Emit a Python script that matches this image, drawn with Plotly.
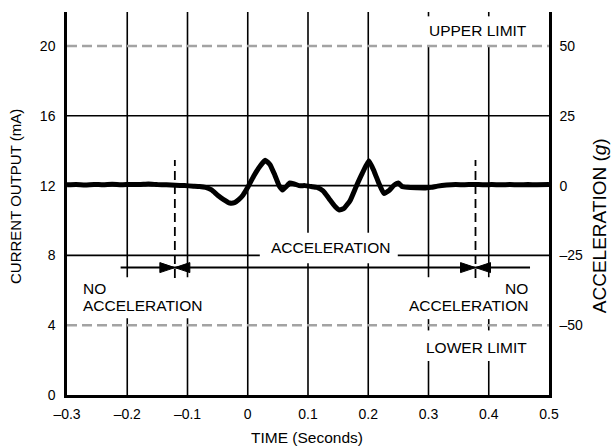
import plotly.graph_objects as go

# ---- data ----
time_s = [-0.300, -0.285, -0.270, -0.255, -0.240, -0.225, -0.210, -0.195, -0.180, -0.165,
          -0.150, -0.135, -0.120, -0.105, -0.090, -0.080, -0.070, -0.060, -0.050, -0.040,
          -0.030, -0.022, -0.015, -0.008, 0.000, 0.010, 0.020, 0.029, 0.037, 0.045,
          0.052, 0.058, 0.064, 0.070, 0.077, 0.085, 0.095, 0.105, 0.115, 0.125,
          0.135, 0.145, 0.152, 0.160, 0.170, 0.180, 0.190, 0.201, 0.210, 0.218,
          0.226, 0.234, 0.242, 0.250, 0.256, 0.265, 0.280, 0.295, 0.305, 0.315,
          0.330, 0.345, 0.360, 0.375, 0.390, 0.405, 0.420, 0.435, 0.450, 0.465,
          0.480, 0.500]
current_ma = [12.05, 12.07, 12.04, 12.07, 12.05, 12.08, 12.05, 12.07, 12.06, 12.09,
              12.06, 12.05, 12.02, 12.00, 11.97, 11.95, 11.90, 11.75, 11.45, 11.20,
              11.00, 11.02, 11.20, 11.45, 11.90, 12.55, 13.10, 13.45, 13.20, 12.60,
              12.00, 11.75, 11.95, 12.15, 12.10, 12.00, 12.00, 11.95, 11.90, 11.70,
              11.25, 10.80, 10.60, 10.70, 11.15, 11.95, 12.70, 13.42, 12.80, 12.10,
              11.55, 11.70, 12.00, 12.15, 11.95, 11.90, 11.88, 11.87, 11.90, 11.97,
              12.03, 12.06, 12.05, 12.07, 12.05, 12.06, 12.05, 12.06, 12.05, 12.06,
              12.05, 12.06]

x_ticks = [-0.3, -0.2, -0.1, 0.0, 0.1, 0.2, 0.3, 0.4, 0.5]
x_ticktext = ["–0.3", "–0.2", "–0.1", "0", "0.1", "0.2", "0.3", "0.4", "0.5"]
y_ticks = [0, 4, 8, 12, 16, 20]
y_ticktext = ["0", "4", "8", "12", "16", "20"]
g_ticks = [-50, -25, 0, 25, 50]
g_ticktext = ["–50", "–25", "0", "25", "50"]

upper_limit_ma = 20
lower_limit_ma = 4
accel_start_s = -0.121
accel_end_s = 0.378

# ---- scales ----
X0, X1 = -0.3, 0.5
Y0, Y1 = 0.0, 21.95
G_PER_MA = 6.25
G_ZERO_MA = 12.0

FONT = "Liberation Sans, Arial, Helvetica, sans-serif"
BLACK = "#000000"
GRAY = "#a3a3a3"

fig = go.Figure()
fig.add_trace(go.Scatter(x=time_s, y=current_ma, mode="lines",
                         line=dict(color=BLACK, width=5, shape="spline", smoothing=0.4),
                         hoverinfo="skip", showlegend=False))
# invisible trace so the right axis is drawn
fig.add_trace(go.Scatter(x=[X0], y=[0], yaxis="y2", mode="markers",
                         marker=dict(opacity=0), showlegend=False, hoverinfo="skip"))

shapes = []


def seg(x0, y0, x1, y1, color=BLACK, width=1.6, dash=None):
    line = dict(color=color, width=width)
    if dash:
        line["dash"] = dash
    shapes.append(dict(type="line", xref="x", yref="y", x0=x0, y0=y0, x1=x1, y1=y1,
                       line=line, layer="below"))


# vertical grid lines (with gaps where the labels sit)
for xv in (-0.2, -0.1):
    seg(xv, 6.75, xv, Y1)
    seg(xv, 0, xv, 4.4)
seg(0.0, 0, 0.0, Y1)
for xv in (0.1, 0.2):
    seg(xv, 9.3, xv, Y1)
    seg(xv, 0, xv, 7.55)
for xv in (0.3, 0.4):
    seg(xv, 21.7, xv, Y1)
    seg(xv, 6.75, xv, upper_limit_ma)
    seg(xv, 3.7, xv, 4.35)
    seg(xv, 0, xv, 1.95)

# horizontal grid lines
seg(X0, 16, X1, 16)
seg(X0, 12, X1, 12)
seg(X0, 8, 0.020, 8)
seg(0.249, 8, X1, 8)

# limit lines
for yv in (upper_limit_ma, lower_limit_ma):
    shapes.append(dict(type="line", xref="x", yref="y", x0=X0, x1=X1, y0=yv, y1=yv,
                       line=dict(color=GRAY, width=2.6, dash="10px,5px"), layer="above"))

# dashed markers for start / end of acceleration
for xv in (accel_start_s, accel_end_s):
    shapes.append(dict(type="line", xref="x", yref="y", x0=xv, x1=xv, y0=6.7, y1=13.47,
                       line=dict(color=BLACK, width=1.8, dash="9px,5px"), layer="above"))

# arrow lines
ARROW_Y = 7.3
for a, b in ((-0.211, accel_start_s), (accel_start_s, accel_end_s), (accel_end_s, 0.4685)):
    shapes.append(dict(type="line", xref="x", yref="y", x0=a, x1=b, y0=ARROW_Y, y1=ARROW_Y,
                       line=dict(color=BLACK, width=2), layer="above"))

# arrow heads (pixel sized triangles anchored at the dashed markers)
HEAD_L, HEAD_H = 15, 5


def head(x_anchor, direction):
    # direction +1: points right (tip at anchor), -1: points left
    bx = -direction * HEAD_L
    path = f"M0,0 L{bx},{HEAD_H} L{bx},{-HEAD_H} Z"
    shapes.append(dict(type="path", xref="x", yref="y", xsizemode="pixel", ysizemode="pixel",
                       xanchor=x_anchor, yanchor=ARROW_Y, path=path,
                       fillcolor=BLACK, line=dict(color=BLACK, width=1), layer="above"))


head(accel_start_s, +1)
head(accel_start_s, -1)
head(accel_end_s, +1)
head(accel_end_s, -1)

ann_font = dict(family=FONT, size=15.5, color=BLACK)
annotations = [
    dict(text="UPPER LIMIT", x=0.466, y=20.9, xanchor="right", yanchor="middle"),
    dict(text="LOWER LIMIT", x=0.466, y=2.75, xanchor="right", yanchor="middle"),
    dict(text="ACCELERATION", x=0.137, y=8.48, xanchor="center", yanchor="middle"),
    dict(text="NO", x=-0.277, y=6.1, xanchor="left", yanchor="middle"),
    dict(text="ACCELERATION", x=-0.277, y=5.12, xanchor="left", yanchor="middle"),
    dict(text="NO", x=0.4685, y=6.1, xanchor="right", yanchor="middle"),
    dict(text="ACCELERATION", x=0.4685, y=5.12, xanchor="right", yanchor="middle"),
]
for a in annotations:
    a.update(xref="x", yref="y", showarrow=False, font=ann_font)

# axis titles
annotations += [
    dict(text="TIME (Seconds)", xref="paper", yref="paper", x=0.498, y=-0.1097,
         xanchor="center", yanchor="middle", showarrow=False, font=ann_font),
    dict(text="CURRENT OUTPUT (mA)", xref="paper", yref="paper", x=-0.107, y=0.518,
         xanchor="center", yanchor="middle", textangle=-90, showarrow=False,
         font=dict(family=FONT, size=15, color=BLACK)),
    dict(text="ACCELERATION (<i>g</i>)", xref="paper", yref="paper", x=1.104, y=0.441,
         xanchor="center", yanchor="middle", textangle=-90, showarrow=False,
         font=dict(family=FONT, size=19, color=BLACK)),
]

tick_font = dict(family=FONT, size=14, color=BLACK)
fig.update_layout(
    width=611, height=448,
    margin=dict(l=67, r=62, t=12, b=53),
    paper_bgcolor="white", plot_bgcolor="white",
    showlegend=False,
    shapes=shapes, annotations=annotations,
    xaxis=dict(range=[X0, X1], tickvals=x_ticks, ticktext=x_ticktext, showgrid=False,
               zeroline=False, showline=True, linecolor=BLACK, linewidth=2.5,
               ticks="", tickfont=tick_font, ticklabelstandoff=4),
    yaxis=dict(range=[Y0, Y1], tickvals=y_ticks, ticktext=y_ticktext, showgrid=False,
               zeroline=False, showline=True, linecolor=BLACK, linewidth=2.5,
               ticks="", tickfont=tick_font, ticklabelstandoff=6),
    yaxis2=dict(range=[(Y0 - G_ZERO_MA) * G_PER_MA, (Y1 - G_ZERO_MA) * G_PER_MA],
                overlaying="y", side="right", tickvals=g_ticks, ticktext=g_ticktext,
                showgrid=False, zeroline=False, showline=True, linecolor=BLACK, linewidth=2.5,
                ticks="", tickfont=tick_font, ticklabelstandoff=5),
)

fig.write_html("out.html", config={"displayModeBar": False},
               post_script="document.body.style.margin='0px';document.body.style.overflow='hidden';")
